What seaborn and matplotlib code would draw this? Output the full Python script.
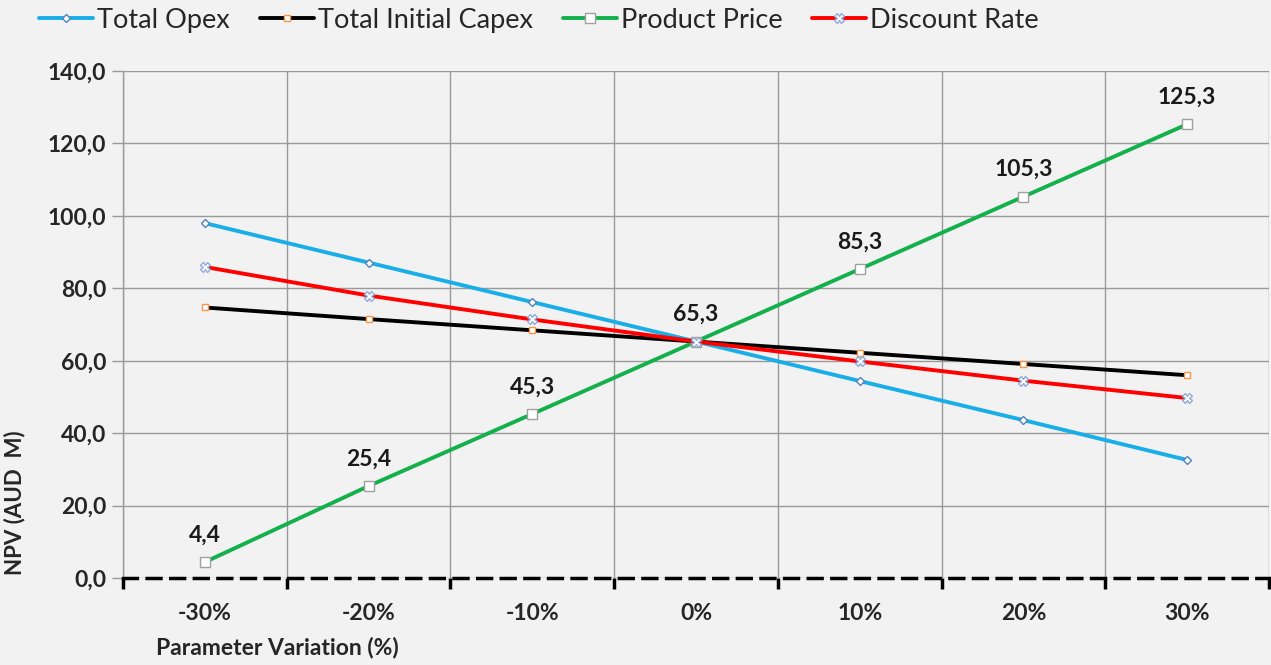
import matplotlib
matplotlib.use("Agg")
import matplotlib.pyplot as plt
import seaborn as sns
import pandas as pd

# sensitivity of NPV to +/- 30% variation of each parameter
variation = ["-30%", "-20%", "-10%", "0%", "10%", "20%", "30%"]
total_opex = [98.0, 87.1, 76.2, 65.3, 54.4, 43.6, 32.6]
total_capex = [74.7, 71.5, 68.4, 65.3, 62.2, 59.1, 56.0]
product_price = [4.4, 25.4, 45.3, 65.3, 85.3, 105.3, 125.3]
discount_rate = [85.9, 78.0, 71.4, 65.3, 59.8, 54.5, 49.7]
y_ticks = [0, 20, 40, 60, 80, 100, 120, 140]

sns.set_style("white")
plt.rcParams["font.family"] = ["Lato", "DejaVu Sans"]

bg = "#f2f2f2"
fig = plt.figure(figsize=(12.71, 6.65), dpi=100, facecolor=bg)
ax = fig.add_axes([0.0968, 0.1308, 0.9016, 0.7624], facecolor=bg)

series = [
    ("Total Opex", total_opex, "#1aaee8", "D", 4, "#4f81bd"),
    ("Total Initial Capex", total_capex, "black", "s", 5, "#f79646"),
    ("Product Price", product_price, "#13b04b", "s", 7, "#a0a0a0"),
    ("Discount Rate", discount_rate, "red", "X", 7, "#8eaadb"),
]
for name, vals, col, mk, ms, mec in series:
    df = pd.DataFrame({"x": variation, "y": vals})
    sns.lineplot(data=df, x="x", y="y", sort=False, ax=ax, color=col, lw=2.8,
                 marker=mk, markersize=ms, markerfacecolor="white",
                 markeredgecolor=mec, markeredgewidth=1.0, label=name, zorder=3)

# data labels for product price
for i, v in enumerate(product_price):
    ax.annotate(f"{v:.1f}".replace(".", ","), (i, v), xytext=(0, 12),
                textcoords="offset points", ha="center", va="bottom",
                fontsize=16.5, fontweight="bold", color="#1a1a1a")

ax.set_xlim(-0.5, 6.5)
ax.set_ylim(0, 140)
ax.set_yticks(y_ticks)
ax.set_yticklabels([f"{t:.1f}".replace(".", ",") for t in y_ticks],
                   fontsize=16.5, fontweight="bold")
ax.set_xticks(range(len(variation)))
ax.set_xticklabels(variation, fontsize=16.5, fontweight="bold")
ax.set_xticks([i - 0.5 for i in range(len(variation) + 1)], minor=True)

ax.grid(axis="y", color="#9a9a9a", lw=1)
ax.grid(axis="x", which="minor", color="#9a9a9a", lw=1)
ax.tick_params(axis="x", which="major", bottom=False, length=0, pad=18)
ax.tick_params(axis="x", which="minor", bottom=True, length=8, width=2.5,
               color="black", direction="out")
ax.tick_params(axis="y", left=True, length=8, width=1, color="#9a9a9a", pad=4)

for s in ["top", "right"]:
    ax.spines[s].set_visible(False)
ax.spines["left"].set_color("#9a9a9a")
ax.spines["left"].set_linewidth(1)
ax.spines["bottom"].set_color("black")
ax.spines["bottom"].set_linewidth(2.5)
ax.spines["bottom"].set_linestyle((0, (4, 2.8)))
ax.spines["bottom"].set_zorder(4)

ax.set_ylabel("NPV (AUD  M)", fontsize=16, fontweight="bold")
ax.yaxis.set_label_coords(-0.085, 0.148)
ax.set_xlabel("Parameter Variation (%)", fontsize=16.5, fontweight="bold")
ax.xaxis.set_label_coords(0.135, -0.115)

ax.legend(loc="upper left", bbox_to_anchor=(0.022, 1.005), bbox_transform=fig.transFigure,
          ncol=4, frameon=False, fontsize=19.5, handlelength=2.0, handletextpad=0.15,
          columnspacing=1.1, borderaxespad=0)

fig.savefig("out.png", dpi=100, facecolor=bg)
